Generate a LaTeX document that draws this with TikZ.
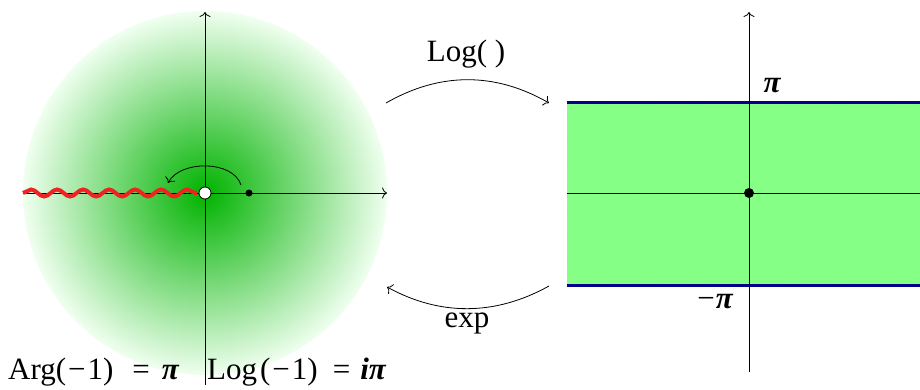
\documentclass[tikz,border=0pt]{standalone}
\usepackage{fontspec}
\setmainfont{Liberation Serif}
\usetikzlibrary{decorations.pathmorphing,patterns,arrows.meta}
\definecolor{navyline}{RGB}{0,0,140}
\definecolor{cutred}{RGB}{240,35,35}
\begin{document}
\begin{tikzpicture}[x=1pt,y=-1pt,
  axis/.style={line width=0.8pt},
  tipped/.style={-{To[length=5pt,width=11pt]}},
  lbl/.style={font=\fontsize{31}{36}\selectfont, inner sep=0pt},
  conn/.style={tipped, line width=0.8pt},
  bound/.style={navyline, line width=3pt}]
\useasboundingbox (0,0) rectangle (920,390);
% left disk
\shade[inner color=green!70!black, outer color=green!6] (205,193) circle (182);
\coordinate (lxl) at (23,193);
\coordinate (lxr) at (387,193);
\coordinate (lyb) at (205,385);
\coordinate (lyt) at (205,12);
\draw[axis,tipped] (lxl) -- (lxr);
\draw[axis,tipped] (lyb) -- (lyt);
\coordinate (rs) at (23,193);
\coordinate (re) at (197,193);
\draw[cutred, line width=4pt, decorate, decoration={snake, segment length=26pt, amplitude=3.5pt}] (rs) -- (re);
\node[circle, draw, fill=white, minimum size=12pt, inner sep=0pt, line width=0.8pt] (O) at (205,193) {};
\node[circle, fill=black, minimum size=7pt, inner sep=0pt] (P) at (249,193) {};
\coordinate (a1) at (241,185);
\coordinate (a2) at (168,183);
\draw[conn] (a1) .. controls (233,160) and (180,160) .. (a2);
% right strip
\fill[green!50] (567,103) rectangle (920,285);
\fill[pattern=north west lines, pattern color=green!42] (567,103) rectangle (920,285);
\coordinate (sl1) at (567,103);
\coordinate (sr1) at (920,103);
\coordinate (sl2) at (567,285);
\coordinate (sr2) at (920,285);
\draw[bound] (sl1) -- (sr1);
\draw[bound] (sl2) -- (sr2);
\coordinate (rxl) at (567,193);
\coordinate (rxr) at (920,193);
\coordinate (ryb) at (749,372);
\coordinate (ryt) at (749,12);
\draw[axis] (rxl) -- (rxr);
\draw[axis,tipped] (ryb) -- (ryt);
\node[circle, fill=black, minimum size=10pt, inner sep=0pt] (Q) at (749,193) {};
\node[lbl, anchor=base] (pi) at (772,93) {\bfseries\itshape π};
\node[lbl, anchor=base] (mpi) at (715,308) {−\kern1pt{\bfseries\itshape π}};
% mapping arrows
\coordinate (l1) at (386,103);
\coordinate (l2) at (549,103);
\coordinate (e1) at (549,286);
\coordinate (e2) at (387,287);
\draw[conn] (l1) .. controls (440,72) and (495,72) .. (l2);
\draw[conn] (e1) .. controls (495,316) and (440,316) .. (e2);
\node[lbl, anchor=base] (log) at (466,62) {Log( )};
\node[lbl, anchor=base] (exp) at (467,327) {exp};
% bottom labels
\node[lbl, anchor=base west] (arg) at (8,379) {Arg(\kern2pt−\kern2pt1)\hspace{19pt}=\hspace{12pt}{\bfseries\itshape π}};
\node[lbl, anchor=base west] (logm) at (207,379) {Log\kern3pt(\kern2pt−\kern2pt1)\hspace{15pt}=\hspace{10pt}{\bfseries\itshape iπ}};
\end{tikzpicture}
\end{document}
